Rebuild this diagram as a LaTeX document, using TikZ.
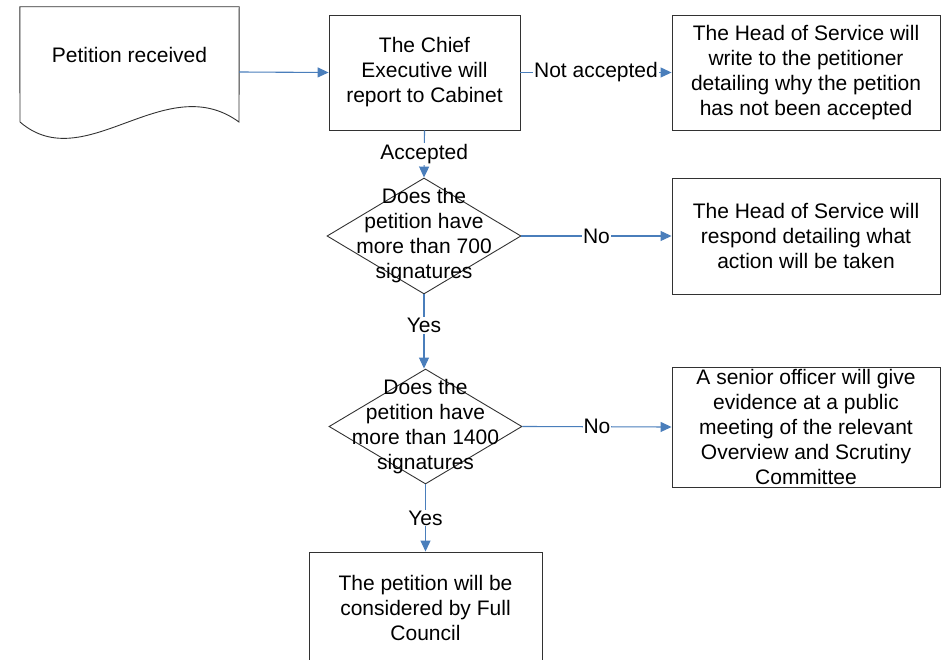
\documentclass[tikz,border=0pt]{standalone}
\usepackage{fontspec}
\setmainfont{Liberation Sans}
\usetikzlibrary{arrows.meta,shapes.geometric}
\definecolor{flowblue}{RGB}{74,126,187}
\definecolor{edgegray}{RGB}{50,50,50}
\tikzset{
  box/.style={draw=edgegray, line width=0.9pt, align=center, inner sep=2pt,
    font=\fontsize{21}{25}\selectfont},
  decision/.style={draw=edgegray, line width=0.9pt, diamond, inner sep=0pt},
  txt/.style={align=center, inner sep=0pt, font=\fontsize{21}{25}\selectfont},
  flow/.style={draw=flowblue, line width=1.1pt,
    -{Triangle[length=11pt,width=10pt]}},
  lbl/.style={fill=white, inner sep=1pt, font=\fontsize{21}{25}\selectfont}
}
\begin{document}
\begin{tikzpicture}[x=1pt,y=-1pt]
  \clip (0,0) rectangle (948,660);

  % petition received (document shape)
  \node (Pet) [minimum width=219pt, minimum height=130pt] at (129.5,72) {};
  \draw [edgegray, line width=0.9pt]
    (20,122) -- (Pet.north west) -- (Pet.north east) -- (239,122)
    .. controls (165,68) and (85,178) .. (20,122);
  \node [txt] at (129.5,55) {Petition received};

  % chief executive
  \node (CE) [box, minimum width=191pt, minimum height=115pt] at (424.5,72.5)
    {The Chief\\Executive will\\report to Cabinet};

  \node (NotAcc) [box, minimum width=268pt, minimum height=115pt] at (806,72.5)
    {The Head of Service will\\write to the petitioner\\detailing why the petition\\has not been accepted};

  % first question
  \node (Q7) [decision, minimum width=194pt, minimum height=116pt] at (424,236) {};
  \node [txt] at (Q7) {Does the\\petition have\\more than 700\\signatures};

  \node (Resp) [box, minimum width=268pt, minimum height=116pt] at (806,236)
    {The Head of Service will\\respond detailing what\\action will be taken};

  % second question
  \node (Q14) [decision, minimum width=193pt, minimum height=115pt] at (425.5,426.5) {};
  \node [txt] at (Q14) {Does the\\petition have\\more than 1400\\signatures};

  \node (Senior) [box, minimum width=268pt, minimum height=120pt, inner sep=0pt] at (806,427)
    {A senior officer will give\\evidence at a public\\meeting of the relevant\\Overview and Scrutiny\\Committee};

  \node (Full) [box, minimum width=233pt, minimum height=112pt] at (425.5,608)
    {The petition will be\\considered by Full\\Council};

  % connectors
  \draw [flow] (Pet.east) -- (CE.west);
  \draw [flow] (CE.east) to node [lbl] {Not accepted} (NotAcc.west);
  \draw [flow] (CE.south) to node [lbl] {Accepted} (Q7.north);
  \draw [flow] (Q7.east) to node [lbl] {No} (Resp.west);
  \draw [flow] (Q7.south) -- (Q7.south |- Q14.north)
    node [lbl, pos=0.42] {Yes};
  \draw [flow] (Q14.east) to node [lbl] {No} (Senior.west);
  \draw [flow] (Q14.south) to node [lbl] {Yes} (Full.north);
\end{tikzpicture}
\end{document}
